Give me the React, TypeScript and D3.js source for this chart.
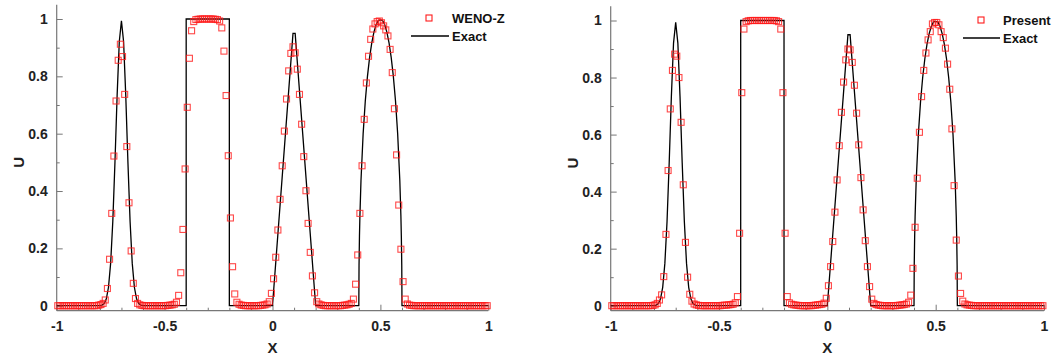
import React, { useEffect, useRef } from 'react';
import * as d3 from 'd3';

// cell centres, dx = 0.01
const cellX = d3.range(200).map(i => -0.995 + 0.01 * i);

// WENO-Z solution (left panel)
const wenoZ = [
  0, 0, 0, 0, 0, 0, 0, 0, 0, 0, 0, 0, 0, 0, 0, 0, 0, 0, 0,
  // gaussian
  0.002, 0.004, 0.008, 0.02, 0.06, 0.162, 0.322, 0.522, 0.714, 0.856,
  0.912, 0.869, 0.737, 0.555, 0.359, 0.191, 0.078, 0.025, 0.008, 0.003,
  0.001, 0, 0, 0, 0, 0, 0, 0, 0, 0, 0, 0, 0.001, 0.002, 0.003,
  // square
  0.005, 0.012, 0.036, 0.115, 0.266, 0.477, 0.692, 0.863, 0.959, 0.991,
  0.998, 0.999, 1, 1, 1, 1, 1, 1, 1, 0.999, 0.998,
  0.993, 0.969, 0.888, 0.733, 0.523, 0.306, 0.136, 0.041, 0.012, 0.005,
  0.002, 0.001, 0, 0, 0, 0, 0, 0, 0, 0.001, 0.002,
  // triangle
  0.003, 0.006, 0.014, 0.043, 0.094, 0.169, 0.264, 0.371, 0.488, 0.609,
  0.721, 0.819, 0.88, 0.903, 0.882, 0.825, 0.737, 0.633, 0.52, 0.401,
  0.287, 0.186, 0.104, 0.045, 0.014, 0.006,
  0.003, 0.001, 0, 0, 0, 0, 0, 0, 0, 0, 0.001, 0.002, 0.003, 0.005,
  // ellipse
  0.008, 0.023, 0.075, 0.177, 0.322, 0.488, 0.65, 0.777, 0.87, 0.929,
  0.965, 0.983, 0.991, 0.993, 0.987, 0.976, 0.962, 0.941, 0.894, 0.813,
  0.687, 0.526, 0.351, 0.197, 0.084, 0.023, 0.006, 0.002,
  0.001, 0, 0, 0, 0, 0, 0, 0, 0, 0, 0, 0, 0, 0, 0, 0, 0, 0,
  0, 0, 0, 0, 0, 0, 0, 0, 0, 0, 0, 0, 0, 0, 0, 0, 0, 0
];

// Present scheme (right panel)
const present = [
  0, 0, 0, 0, 0, 0, 0, 0, 0, 0, 0, 0, 0, 0, 0, 0, 0, 0, 0,
  0.001, 0.003, 0.008, 0.02, 0.038, 0.102, 0.25, 0.474, 0.69, 0.825,
  0.882, 0.875, 0.8, 0.643, 0.424, 0.222, 0.1, 0.04, 0.016, 0.006,
  0.003, 0.001, 0, 0, 0, 0, 0, 0, 0, 0, 0, 0, 0.001, 0.002, 0.002,
  0.003, 0.004, 0.005, 0.01, 0.032, 0.254, 0.747, 0.97, 0.996, 0.999,
  1, 1, 1, 1, 1, 1, 1, 1, 1, 1, 1,
  1, 0.999, 0.996, 0.97, 0.747, 0.254, 0.032, 0.01, 0.005, 0.003,
  0.002, 0.001, 0, 0, 0, 0, 0, 0, 0.001, 0.002, 0.003,
  0.004, 0.005, 0.009, 0.026, 0.07, 0.137, 0.225, 0.328, 0.441, 0.561,
  0.678, 0.784, 0.862, 0.9, 0.897, 0.853, 0.773, 0.675, 0.564, 0.449,
  0.336, 0.228, 0.137, 0.067, 0.023, 0.008,
  0.004, 0.002, 0.001, 0, 0, 0, 0, 0, 0, 0, 0.001, 0.002, 0.003, 0.004,
  0.006, 0.012, 0.037, 0.131, 0.275, 0.447, 0.608, 0.733, 0.825, 0.886,
  0.932, 0.961, 0.988, 0.993, 0.993, 0.985, 0.961, 0.94, 0.903, 0.847,
  0.759, 0.62, 0.421, 0.23, 0.104, 0.043, 0.016, 0.006,
  0.003, 0.002, 0.001, 0, 0, 0, 0, 0, 0, 0, 0, 0, 0, 0, 0, 0, 0, 0,
  0, 0, 0, 0, 0, 0, 0, 0, 0, 0, 0, 0, 0, 0, 0, 0, 0, 0
];

// exact solution
const exactX = [
  -1, -0.81, -0.8, -0.79, -0.78, -0.77, -0.76, -0.75, -0.74, -0.73, -0.72, -0.71,
  -0.7, -0.69, -0.68, -0.67, -0.66, -0.65, -0.64, -0.63, -0.62, -0.61, -0.6, -0.59,
  -0.4, -0.4, -0.2, -0.2,
  0, 0.095, 0.105, 0.2,
  0.4, 0.4, 0.401, 0.403, 0.405, 0.41, 0.42, 0.43, 0.44, 0.45, 0.46, 0.47, 0.48, 0.49,
  0.5, 0.51, 0.52, 0.53, 0.54, 0.55, 0.56, 0.57, 0.58, 0.59, 0.595, 0.597, 0.599, 0.6,
  1
];
const exactU = [
  0, 0, 0.0005, 0.0021, 0.0077, 0.0239, 0.0643, 0.1484, 0.2943, 0.5012, 0.7331, 0.9209,
  0.9936, 0.9209, 0.7331, 0.5012, 0.2943, 0.1484, 0.0643, 0.0239, 0.0077, 0.0021, 0.0005, 0,
  0, 1, 1, 0,
  0, 0.95, 0.95, 0,
  0, 0, 0.141, 0.243, 0.312, 0.436, 0.6, 0.714, 0.8, 0.866, 0.917, 0.954, 0.98, 0.995,
  0.997, 0.995, 0.98, 0.954, 0.917, 0.866, 0.8, 0.714, 0.6, 0.436, 0.312, 0.243, 0.141, 0,
  0
];

const xMajor = [-1, -0.5, 0, 0.5, 1];
const xMinor = [-0.9, -0.8, -0.7, -0.6, -0.4, -0.3, -0.2, -0.1, 0.1, 0.2, 0.3, 0.4, 0.6, 0.7, 0.8, 0.9];
const yMajor = [0, 0.2, 0.4, 0.6, 0.8, 1];
const yMinor = [0.1, 0.3, 0.5, 0.7, 0.9];

const panels = [
  { name: 'WENO-Z', values: wenoZ, x0: 56.7, x1: 488.3, y0: 305.7, y1: 19, lx: 429, ly: 18, lineX: [411, 449] },
  { name: 'Present', values: present, x0: 610.7, x1: 1044, y0: 305.7, y1: 20.5, lx: 981, ly: 20, lineX: [963, 1000] }
];

const FONT = '"Liberation Sans", Arial, sans-serif';
const AXIS = '#777';
const RED = '#ff1a1a';

function drawPanel(svg: any, p: any) {
  const x = d3.scaleLinear().domain([-1, 1]).range([p.x0, p.x1]);
  const y = d3.scaleLinear().domain([0, 1]).range([p.y0, p.y1]);
  const yBot = y(-0.0175), yTop = y(1.05);
  const g = svg.append('g');

  // x axis
  const gx = g.append('g').attr('transform', `translate(0,${yBot})`);
  gx.append('g').call(d3.axisBottom(x).tickValues(xMinor).tickSize(-3).tickFormat(() => ''));
  gx.append('g').call(d3.axisBottom(x).tickValues(xMajor).tickSize(-6).tickPadding(10)
    .tickFormat((d: any) => String(d)));
  // y axis
  const gy = g.append('g').attr('transform', `translate(${x(-1)},0)`);
  gy.append('g').call(d3.axisLeft(y).tickValues(yMinor).tickSize(-3).tickFormat(() => ''));
  gy.append('g').call(d3.axisLeft(y).tickValues(yMajor).tickSize(-6).tickPadding(9)
    .tickFormat((d: any) => String(d)));

  g.selectAll('.domain').remove();
  g.selectAll('.tick line').attr('stroke', AXIS).attr('stroke-width', 1);
  g.selectAll('.tick text').attr('fill', '#222').style('font-family', FONT)
    .style('font-size', '14px').style('font-weight', 'bold');

  g.append('line').attr('x1', x(-1)).attr('x2', x(1)).attr('y1', yBot).attr('y2', yBot)
    .attr('stroke', AXIS).attr('stroke-width', 1.2);
  g.append('line').attr('x1', x(-1)).attr('x2', x(-1)).attr('y1', yBot).attr('y2', yTop)
    .attr('stroke', AXIS).attr('stroke-width', 1.2);

  // labels
  g.append('text').text('X').attr('x', x(0)).attr('y', 353).attr('text-anchor', 'middle')
    .style('font-family', FONT).style('font-size', '15px').style('font-weight', 'bold').attr('fill', '#222');
  g.append('text').text('U')
    .attr('transform', `translate(${p.x0 - 33},${y(0.5)}) rotate(-90)`)
    .attr('text-anchor', 'middle')
    .style('font-family', FONT).style('font-size', '15px').style('font-weight', 'bold').attr('fill', '#222');

  // exact line
  const line = d3.line<number>().x(i => x(exactX[i])).y(i => y(exactU[i]));
  g.append('path').datum(d3.range(exactX.length)).attr('d', line)
    .attr('fill', 'none').attr('stroke', '#000').attr('stroke-width', 1.3);

  // numerical markers
  const s = 6;
  g.append('g').selectAll('rect').data(p.values).enter().append('rect')
    .attr('x', (d: number, i: number) => x(cellX[i]) - s / 2)
    .attr('y', (d: number) => y(d) - s / 2)
    .attr('width', s).attr('height', s)
    .attr('fill', 'none').attr('stroke', RED).attr('stroke-opacity', 0.8).attr('stroke-width', 1.1);

  // legend
  const lg = g.append('g');
  lg.append('rect').attr('x', p.lx - s / 2).attr('y', p.ly - s / 2).attr('width', s).attr('height', s)
    .attr('fill', 'none').attr('stroke', RED).attr('stroke-width', 1.1);
  lg.append('text').text(p.name).attr('x', p.lineX[1] + 3).attr('y', p.ly + 5)
    .style('font-family', FONT).style('font-size', '13px').style('font-weight', 'bold').attr('fill', '#111');
  lg.append('line').attr('x1', p.lineX[0]).attr('x2', p.lineX[1]).attr('y1', p.ly + 18).attr('y2', p.ly + 18)
    .attr('stroke', '#000').attr('stroke-width', 1.3);
  lg.append('text').text('Exact').attr('x', p.lineX[1] + 3).attr('y', p.ly + 23)
    .style('font-family', FONT).style('font-size', '13px').style('font-weight', 'bold').attr('fill', '#111');
}

export default function App() {
  const ref = useRef<SVGSVGElement>(null);
  useEffect(() => {
    const svg = d3.select(ref.current);
    svg.selectAll('*').remove();
    panels.forEach(p => drawPanel(svg, p));
  }, []);
  return (
    <svg ref={ref} width={1057} height={358}
      style={{ position: 'absolute', left: 0, top: 0, background: '#fff' }} />
  );
}
